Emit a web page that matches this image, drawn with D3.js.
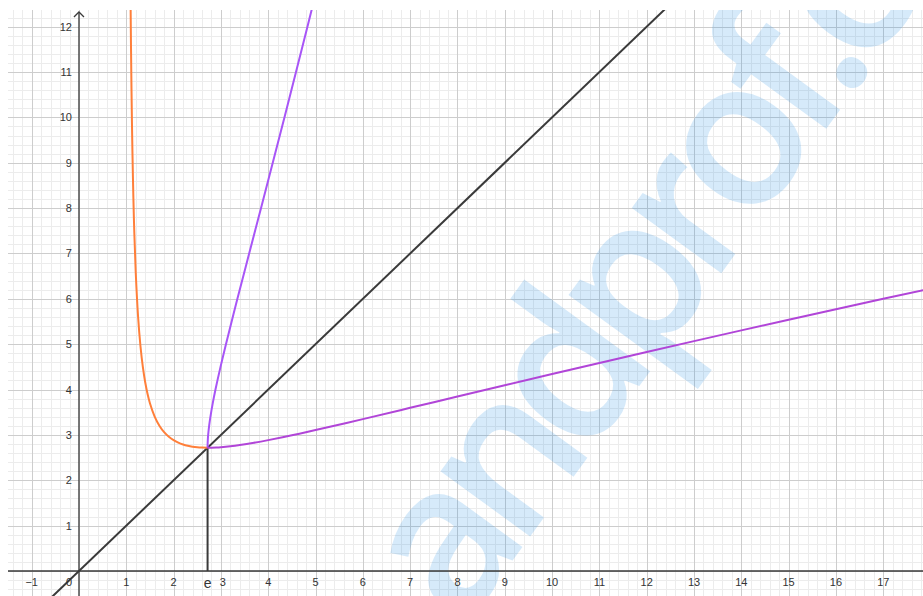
<!DOCTYPE html>
<html>
<head>
<meta charset="utf-8">
<script src="https://cdn.jsdelivr.net/npm/d3@7"></script>
<style>
  html, body { margin: 0; padding: 0; background: #ffffff; }
  svg { display: block; }
</style>
</head>
<body>
<svg id="chart" width="923" height="596"></svg>
<script>
// ---- data ----
const xTickValues = [-1, 0, 1, 2, 3, 4, 5, 6, 7, 8, 9, 10, 11, 12, 13, 14, 15, 16, 17];
const xTickLabels = ["\u22121", "0", "1", "2", "3", "4", "5", "6", "7", "8", "9", "10", "11", "12", "13", "14", "15", "16", "17"];
const yTickValues = [1, 2, 3, 4, 5, 6, 7, 8, 9, 10, 11, 12];
const yTickLabels = ["1", "2", "3", "4", "5", "6", "7", "8", "9", "10", "11", "12"];

const eValue = 2.7183;
const eLabel = "e";

// orange branch (1 < x <= e)
const orangeX = [1.08, 1.09, 1.095, 1.1, 1.11, 1.12, 1.13, 1.15, 1.17, 1.2, 1.25, 1.3, 1.35, 1.4, 1.45, 1.5, 1.6, 1.7, 1.8, 1.9, 2.0, 2.1, 2.2, 2.3, 2.4, 2.5, 2.6, 2.7183];
const orangeY = [14.03, 12.65, 12.07, 11.54, 10.64, 9.88, 9.25, 8.23, 7.45, 6.58, 5.60, 4.955, 4.498, 4.161, 3.902, 3.699, 3.404, 3.204, 3.062, 2.960, 2.885, 2.830, 2.790, 2.761, 2.741, 2.728, 2.721, 2.7183];

// lower purple branch (x >= e)
const purpleLowX = [2.7183, 2.75, 2.8, 2.9, 3.0, 3.2, 3.4, 3.7, 4.0, 4.5, 5, 6, 7, 8, 9, 10, 11, 12, 13, 14, 15, 16, 17, 18, 19];
const purpleLowY = [2.7183, 2.7185, 2.7195, 2.7237, 2.7307, 2.7512, 2.7783, 2.8280, 2.8854, 2.9919, 3.1067, 3.3486, 3.5973, 3.8473, 4.0960, 4.3429, 4.5873, 4.8291, 5.0684, 5.3050, 5.5390, 5.7706, 6.0004, 6.2275, 6.4529];

// steep purple branch (mirror of the lower one)
const purpleHighX = [2.7183, 2.7185, 2.7195, 2.7237, 2.7307, 2.7512, 2.7783, 2.8280, 2.8854, 2.9919, 3.1067, 3.3486, 3.5973, 3.8473, 4.0960, 4.3429, 4.5873, 4.8291, 5.0684];
const purpleHighY = [2.7183, 2.75, 2.8, 2.9, 3.0, 3.2, 3.4, 3.7, 4.0, 4.5, 5, 6, 7, 8, 9, 10, 11, 12, 13];

// line y = x
const diagX = [-2, 19];
const diagY = [-2, 19];

const watermarkText = "andprof.com";

// ---- layout ----
const W = 923, H = 596;
const plotLeft = 8, plotTop = 10;
const svg = d3.select("#chart");

const x = d3.scaleLinear().domain([-1.5, 17.84]).range([plotLeft, W]);
const y = d3.scaleLinear().domain([-0.551, 12.368]).range([H, plotTop]);

svg.append("defs").append("clipPath").attr("id", "plotClip")
  .append("rect").attr("x", plotLeft).attr("y", plotTop)
  .attr("width", W - plotLeft).attr("height", H - plotTop);

const plot = svg.append("g").attr("clip-path", "url(#plotClip)");

// minor grid
const minorX = d3.range(-1.4, 17.85, 0.2).filter(v => Math.abs(v - Math.round(v)) > 1e-6);
const minorY = d3.range(-0.4, 12.4, 0.2).filter(v => Math.abs(v - Math.round(v)) > 1e-6);
plot.append("g").selectAll("line").data(minorX).join("line")
  .attr("x1", d => Math.round(x(d)) + 0.5).attr("x2", d => Math.round(x(d)) + 0.5)
  .attr("y1", plotTop).attr("y2", H)
  .attr("stroke", "#ececec").attr("stroke-width", 1);
plot.append("g").selectAll("line").data(minorY).join("line")
  .attr("y1", d => Math.round(y(d)) + 0.5).attr("y2", d => Math.round(y(d)) + 0.5)
  .attr("x1", plotLeft).attr("x2", W)
  .attr("stroke", "#ececec").attr("stroke-width", 1);

// major grid
const majorX = d3.range(-1, 18, 1);
const majorY = d3.range(0, 13, 1);
plot.append("g").selectAll("line").data(majorX).join("line")
  .attr("x1", d => Math.round(x(d)) + 0.5).attr("x2", d => Math.round(x(d)) + 0.5)
  .attr("y1", plotTop).attr("y2", H)
  .attr("stroke", "#cdcdcd").attr("stroke-width", 1);
plot.append("g").selectAll("line").data(majorY).join("line")
  .attr("y1", d => Math.round(y(d)) + 0.5).attr("y2", d => Math.round(y(d)) + 0.5)
  .attr("x1", plotLeft).attr("x2", W)
  .attr("stroke", "#cdcdcd").attr("stroke-width", 1);

// watermark
plot.append("text")
  .attr("transform", "translate(462,630) rotate(-54)")
  .attr("font-family", "'Open Sans', sans-serif")
  .attr("font-weight", 600)
  .attr("font-size", 205)
  .attr("letter-spacing", -20)
  .attr("fill", "#1e88e5")
  .attr("fill-opacity", 0.18)
  .text(watermarkText);

// axes
const x0 = x(0), y0 = y(0);
plot.append("line").attr("x1", plotLeft).attr("x2", W)
  .attr("y1", y0).attr("y2", y0).attr("stroke", "#3a3a3a").attr("stroke-width", 1.3);
plot.append("line").attr("x1", x0).attr("x2", x0)
  .attr("y1", H).attr("y2", plotTop + 2).attr("stroke", "#3a3a3a").attr("stroke-width", 1.3);
plot.append("path")
  .attr("d", `M${x0 - 5},${plotTop + 7} L${x0},${plotTop + 2} L${x0 + 5},${plotTop + 7}`)
  .attr("fill", "none").attr("stroke", "#3a3a3a").attr("stroke-width", 1.3);

// tick labels
const labelFont = "'Liberation Sans', Arial, sans-serif";
svg.append("g").selectAll("text").data(xTickValues).join("text")
  .attr("x", (d, i) => d === 0 ? x(d) - 10 : (d === 3 ? x(d) + 2 : x(d)))
  .attr("y", y0 + 15)
  .attr("text-anchor", "middle")
  .attr("font-family", labelFont).attr("font-size", 11).attr("fill", "#333")
  .text((d, i) => xTickLabels[i]);
svg.append("g").selectAll("text").data(yTickValues).join("text")
  .attr("x", x0 - 7)
  .attr("y", d => y(d) + 4)
  .attr("text-anchor", "end")
  .attr("font-family", labelFont).attr("font-size", 11).attr("fill", "#333")
  .text((d, i) => yTickLabels[i]);

// curves
const toPts = (xs, ys) => xs.map((v, i) => [v, ys[i]]);
const line = d3.line().x(d => x(d[0])).y(d => y(d[1])).curve(d3.curveCatmullRom.alpha(0.5));

// y = x
plot.append("path").datum(toPts(diagX, diagY))
  .attr("d", d3.line().x(d => x(d[0])).y(d => y(d[1])))
  .attr("fill", "none").attr("stroke", "#3a3a3a").attr("stroke-width", 2);

// vertical at e
plot.append("line")
  .attr("x1", x(eValue)).attr("x2", x(eValue))
  .attr("y1", y(0)).attr("y2", y(eValue))
  .attr("stroke", "#3a3a3a").attr("stroke-width", 2);

plot.append("path").datum(toPts(orangeX, orangeY))
  .attr("d", line).attr("fill", "none")
  .attr("stroke", "#ff7f3a").attr("stroke-width", 2);

plot.append("path").datum(toPts(purpleHighX, purpleHighY))
  .attr("d", line).attr("fill", "none")
  .attr("stroke", "#a855f7").attr("stroke-width", 2);

plot.append("path").datum(toPts(purpleLowX, purpleLowY))
  .attr("d", line).attr("fill", "none")
  .attr("stroke", "#b145d8").attr("stroke-width", 2);

// e label
svg.append("text")
  .attr("x", x(eValue)).attr("y", y0 + 17)
  .attr("text-anchor", "middle")
  .attr("font-family", labelFont).attr("font-size", 14).attr("fill", "#333")
  .text(eLabel);
</script>
</body>
</html>
